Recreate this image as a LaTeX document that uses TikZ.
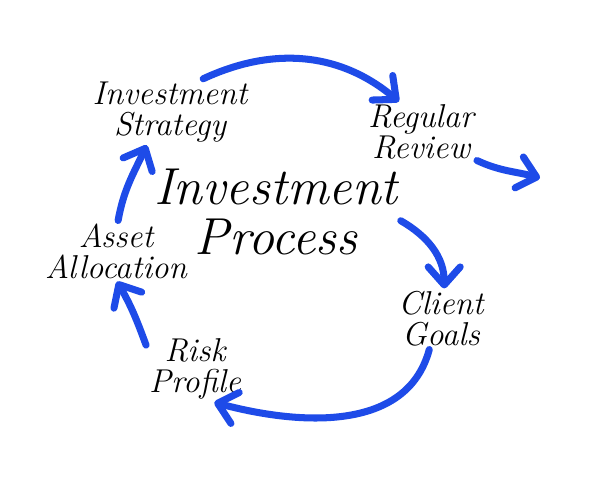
\documentclass[tikz,border=0pt]{standalone}
\usetikzlibrary{arrows.meta}
\definecolor{arrowblue}{RGB}{30,75,232}
\begin{document}
\begin{tikzpicture}[x=0.025cm, y=0.025cm,
    label/.style={align=center, inner sep=2pt, font=\fontsize{23.5}{22}\selectfont\itshape},
    title/.style={align=center, inner sep=2pt, font=\fontsize{37}{35}\selectfont\itshape},
    flow/.style={arrowblue, line width=5pt, line cap=round,
      -{Straight Barb[length=4.5mm, width=8mm, round]}}]
          \useasboundingbox[fill=white] (0,0) rectangle (600,480);

          \node[label] (strategy) at (170,368) {Investment\\Strategy};
          \node[label] (review) at (421,348) {Regular\\Review};
          \node[title] (process) at (276,268) {Investment\\Process};
          \node[label] (asset) at (116,229) {Asset\\Allocation};
          \node[label] (goals) at (441,161) {Client\\Goals};
          \node[label] (risk) at (195,111) {Risk\\Profile};
          \coordinate (next) at (540,302);

          \draw [flow] (strategy.45) to[out=25, in=140] (review.126);
          \draw [flow] (review.-27) to[out=-25, in=165] (next);
          \draw [flow] (process.-4) to[out=-30, in=90] (goals.84);
          \draw [flow] (goals.-111) to[out=-105, in=-15] (risk.-60);
          \draw [flow] (risk.154) to[out=110, in=-60] (asset.-88);
          \draw [flow] (asset.86) to[out=80, in=-115] (strategy.-125);
        \end{tikzpicture}
\end{document}
